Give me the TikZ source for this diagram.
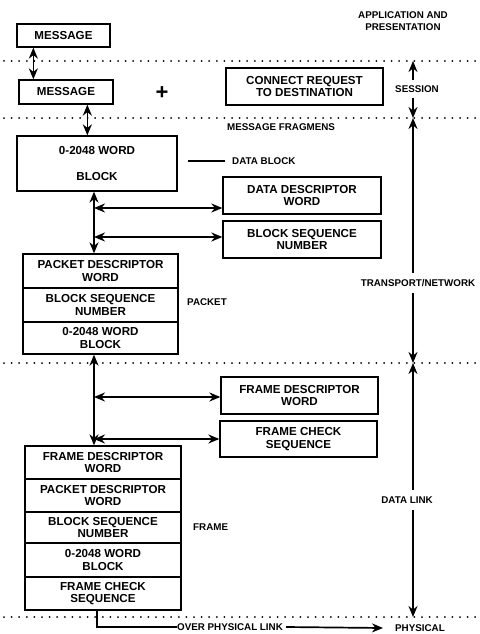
\documentclass[tikz,border=0pt]{standalone}
\usepackage{fontspec}
\setmainfont{Liberation Sans}
\usetikzlibrary{arrows.meta}
\begin{document}
\begin{tikzpicture}[x=1pt,y=-1pt,
  box/.style={draw,line width=1.3pt,align=center,inner sep=0pt,
    font=\bfseries\fontsize{11.6}{12.3}\selectfont},
  lbl/.style={inner sep=0pt,align=center,font=\bfseries\fontsize{9.8}{12.5}\selectfont},
  dotline/.style={line width=2pt,line cap=round,dash pattern=on 0pt off 7.6pt},
  arr/.style={line width=1.7pt,-{Stealth[length=11pt,width=9pt]}},
  dbl/.style={line width=1.7pt,{Stealth[length=11pt,width=9pt]}-{Stealth[length=11pt,width=9pt]}},
  ln/.style={line width=1.4pt}]
\useasboundingbox (0,0) rectangle (479,634);
% dotted layer lines
\coordinate (d1l) at (4,61);   \coordinate (d1r) at (476,61);
\coordinate (d2l) at (4,118);  \coordinate (d2r) at (476,118);
\coordinate (d3l) at (4,363);  \coordinate (d3r) at (476,363);
\coordinate (d4l) at (4,617);  \coordinate (d4r) at (476,617);
\draw[dotline] (d1l) -- (d1r);
\draw[dotline] (d2l) -- (d2r);
\draw[dotline] (d3l) -- (d3r);
\draw[dotline] (d4l) -- (d4r);
% top boxes
\node[box,minimum width=93pt,minimum height=23pt] (msg1) at (63.5,35.5) {MESSAGE};
\node[box,minimum width=94pt,minimum height=24pt] (msg2) at (66,92) {MESSAGE};
\node[inner sep=0pt,font=\bfseries\fontsize{22}{22}\selectfont] (plus) at (162,93) {+};
\node[box,minimum width=157pt,minimum height=37pt] (conn) at (304.5,86.5) {CONNECT REQUEST\\TO DESTINATION};
\node[lbl] (app) at (403,21) {APPLICATION AND\\PRESENTATION};
\node[lbl,anchor=west] (frag) at (227,127) {MESSAGE FRAGMENS};
% data block
\node[box,minimum width=160pt,minimum height=55pt] (dblk) at (97,163.5) {0-2048 WORD\\[13pt]BLOCK};
\node[lbl,anchor=west] (dblbl) at (232,161) {DATA BLOCK};
\draw[ln] ([xshift=-7pt]dblbl.west) -- ([xshift=-44pt]dblbl.west);
\node[box,minimum width=158pt,minimum height=37pt] (ddw) at (302,195.5) {DATA DESCRIPTOR\\WORD};
\node[box,minimum width=158pt,minimum height=37pt] (bsn) at (302,239.5) {BLOCK SEQUENCE\\NUMBER};
% packet
\node[box,minimum width=155pt,minimum height=34pt] (pk1) at (100.5,271) {PACKET DESCRIPTOR\\WORD};
\node[box,minimum width=155pt,minimum height=34pt] (pk2) at (100.5,305) {BLOCK SEQUENCE\\NUMBER};
\node[box,minimum width=155pt,minimum height=32pt] (pk3) at (100.5,338) {0-2048 WORD\\BLOCK};
\node[lbl,anchor=west] (pklbl) at (187,302) {PACKET};
% frame parts
\node[box,minimum width=157pt,minimum height=37pt] (fdw) at (299.5,395.5) {FRAME DESCRIPTOR\\WORD};
\node[box,minimum width=157pt,minimum height=36pt] (fcs) at (298.5,439) {FRAME CHECK\\SEQUENCE};
% frame
\node[box,minimum width=156pt,minimum height=33pt] (fr1) at (103,462.5) {FRAME DESCRIPTOR\\WORD};
\node[box,minimum width=156pt,minimum height=33pt] (fr2) at (103,495.5) {PACKET DESCRIPTOR\\WORD};
\node[box,minimum width=156pt,minimum height=31pt] (fr3) at (103,527.5) {BLOCK SEQUENCE\\NUMBER};
\node[box,minimum width=156pt,minimum height=34pt] (fr4) at (103,560) {0-2048 WORD\\BLOCK};
\node[box,minimum width=156pt,minimum height=33pt] (fr5) at (103,593.5) {FRAME CHECK\\SEQUENCE};
\node[lbl,anchor=west] (frlbl) at (193,527) {FRAME};
% connectors left
\draw[dbl] ([xshift=17pt]msg1.south west) -- ([xshift=15pt]msg2.north west);
\coordinate (a2) at ([xshift=69pt]msg2.south west);
\draw[dbl] (a2) -- (a2 |- dblk.north);
\coordinate (v1) at ([xshift=-3pt]dblk.south);
\draw[dbl] (v1) -- (v1 |- pk1.north);
\draw[dbl] ([yshift=-12.5pt]ddw.west -| v1) -- ([yshift=-12.5pt]ddw.west);
\draw[dbl] ([yshift=2.5pt]bsn.west -| v1) -- ([yshift=2.5pt]bsn.west);
\coordinate (v2) at ([xshift=-6.5pt]pk3.south);
\draw[dbl] (v2) -- (v2 |- fr1.north);
\draw[dbl] ([yshift=-1.5pt]fdw.west -| v2) -- ([yshift=-1.5pt]fdw.west);
\draw[dbl] (fcs.west -| v2) -- (fcs.west);
% bottom
\node[lbl,anchor=west] (ovr) at (177,627) {OVER PHYSICAL LINK};
\node[lbl,anchor=west] (phy) at (395,628) {PHYSICAL};
\coordinate (b0) at ([xshift=-6pt]fr5.south);
\draw[ln] (b0) |- (ovr.west);
\draw[arr] ([xshift=3pt]ovr.east) -- ([xshift=-12pt]phy.west);
% right side layer arrows
\node[lbl] (sess) at (417,89) {SESSION};
\node[lbl] (tn) at (418,283) {TRANSPORT/NETWORK};
\node[lbl] (dl) at (407,500) {DATA LINK};
\coordinate (rx) at (413,0);
\draw[arr] ([yshift=5pt]sess.north -| rx) -- (d1l -| rx);
\draw[arr] ([yshift=-5pt]sess.south -| rx) -- (d2l -| rx);
\draw[arr] ([yshift=6pt]tn.north -| rx) -- (d2l -| rx);
\draw[arr] ([yshift=-6pt]tn.south -| rx) -- (d3l -| rx);
\draw[arr] ([yshift=6pt]dl.north -| rx) -- (d3l -| rx);
\draw[arr] ([yshift=-6pt]dl.south -| rx) -- (d4l -| rx);
\end{tikzpicture}
\end{document}
